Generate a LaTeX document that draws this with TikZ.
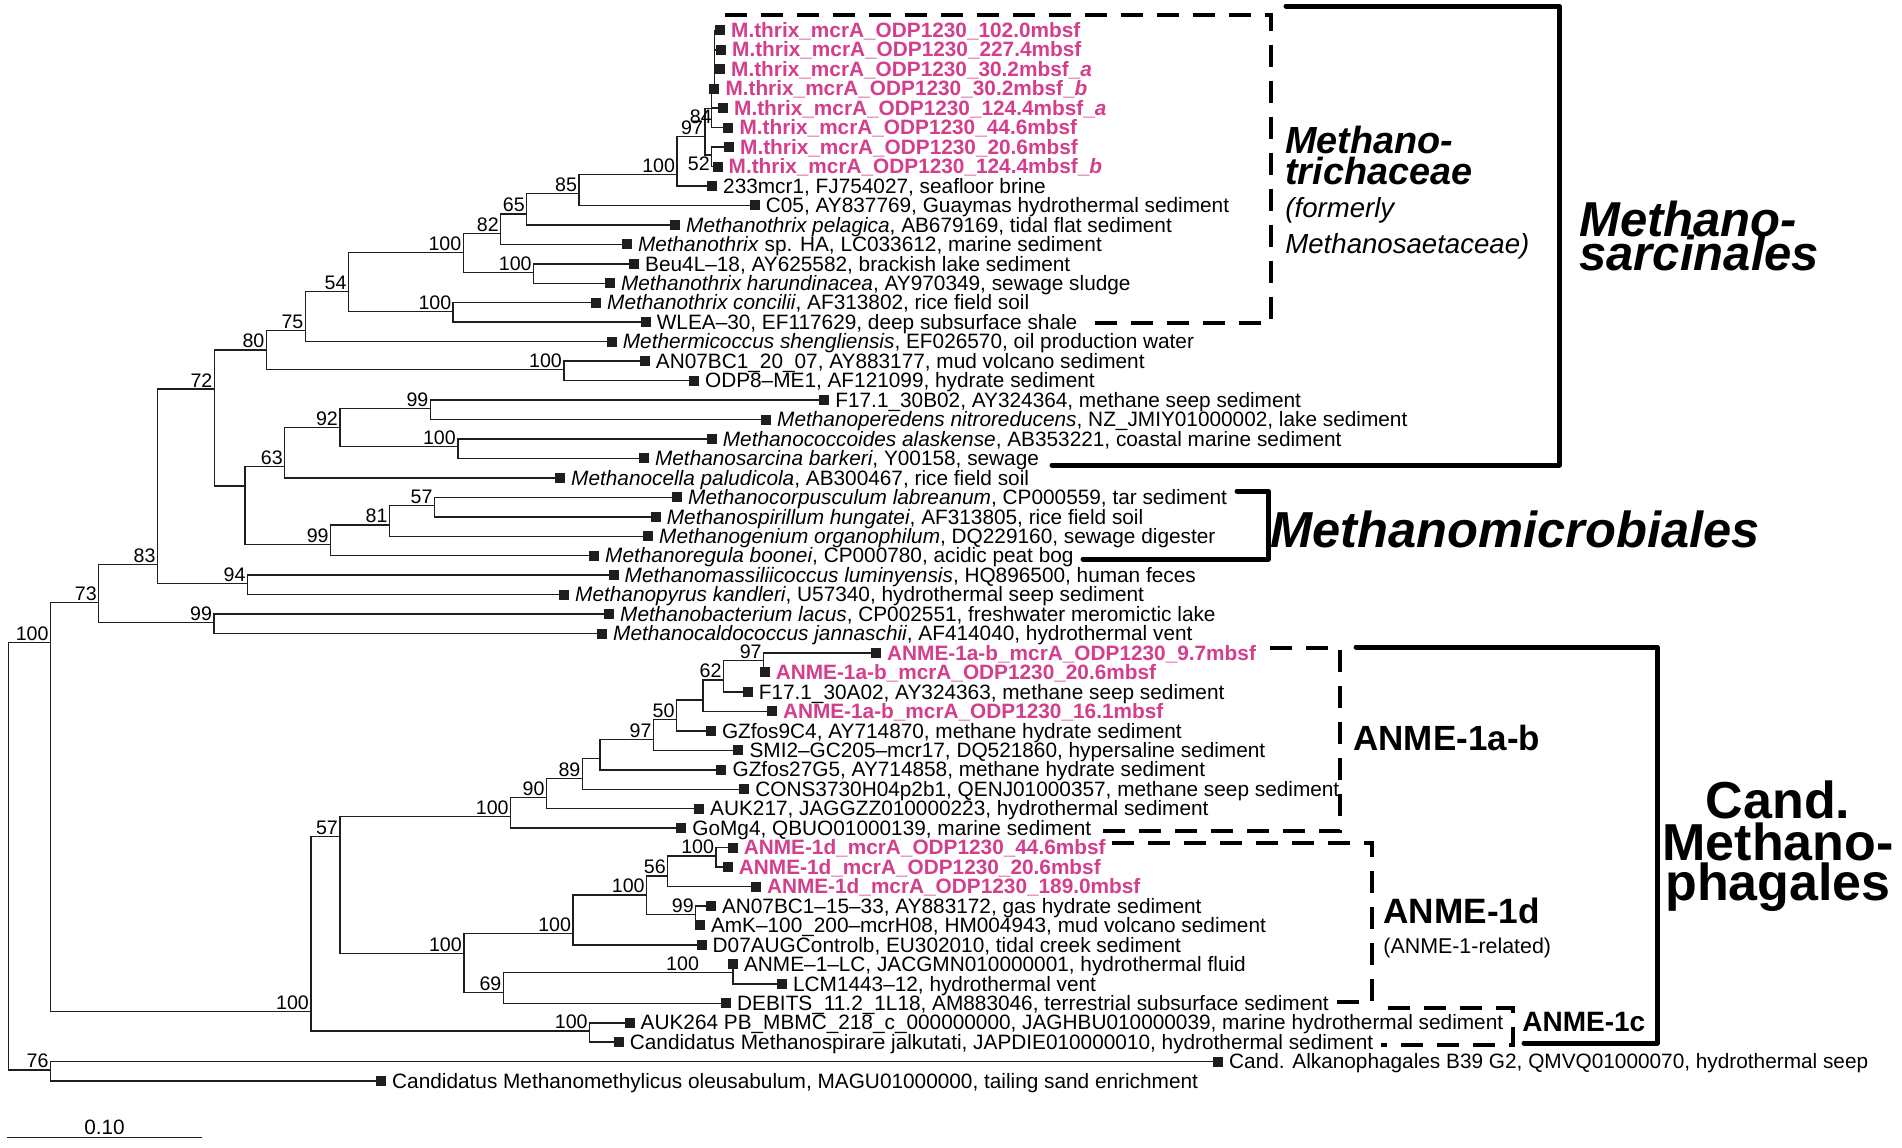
\documentclass[tikz,border=0pt]{standalone}
\usepackage{fontspec}
\setmainfont{Liberation Sans}
\usepackage{tikz}
\usetikzlibrary{calc}
\definecolor{seqpink}{RGB}{212, 62, 140}
\definecolor{treeblack}{RGB}{30, 30, 30}
\newcommand{\odp}[1]{{\bfseries\color{seqpink}#1}}

\begin{document}
\begin{tikzpicture}[x=0.5pt, y=-0.5pt,
  branch/.style={line width=0.75pt, draw=treeblack},
  tipbox/.style={fill=treeblack, draw=none, minimum size=5pt, inner sep=0pt},
  tiplab/.style={anchor=base west, inner sep=0pt, xshift=5.4pt, yshift=-3.6pt,
                 font=\fontsize{10.4}{12}\selectfont},
  boot/.style={anchor=south east, inner sep=0.8pt, font=\fontsize{9.8}{11}\selectfont},
  clade/.style={line width=2.5pt, line join=round, line cap=round},
  subclade/.style={line width=2pt, dash pattern=on 11pt off 7pt},
  grouplab/.style={anchor=base west, inner sep=0pt},
]
\fill[white] (0,0) rectangle (1902,1147);
\useasboundingbox (0,0) rectangle (1902,1147);

% Leaves: tip x and label
\foreach \i/\tx/\lab in {
  1/720/{\odp{M.thrix\_mcrA\_ODP1230\_102.0mbsf}},
  2/721/{\odp{M.thrix\_mcrA\_ODP1230\_227.4mbsf}},
  3/720/{\odp{M.thrix\_mcrA\_ODP1230\_30.2mbsf\_\textit{a}}},
  4/714.3/{\odp{M.thrix\_mcrA\_ODP1230\_30.2mbsf\_\textit{b}}},
  5/723/{\odp{M.thrix\_mcrA\_ODP1230\_124.4mbsf\_\textit{a}}},
  6/728.3/{\odp{M.thrix\_mcrA\_ODP1230\_44.6mbsf}},
  7/729/{\odp{M.thrix\_mcrA\_ODP1230\_20.6mbsf}},
  8/717.5/{\odp{M.thrix\_mcrA\_ODP1230\_124.4mbsf\_\textit{b}}},
  9/712/{233mcr1, FJ754027, seafloor brine},
  10/754.7/{C05, AY837769, Guaymas hydrothermal sediment},
  11/675/{\textit{Methanothrix pelagica}, AB679169, tidal flat sediment},
  12/626.8/{\textit{Methanothrix} sp. HA, LC033612, marine sediment},
  13/634/{Beu4L–18, AY625582, brackish lake sediment},
  14/609.8/{\textit{Methanothrix harundinacea}, AY970349, sewage sludge},
  15/596/{\textit{Methanothrix concilii}, AF313802, rice field soil},
  16/645.6/{WLEA–30, EF117629, deep subsurface shale},
  17/611.7/{\textit{Methermicoccus shengliensis}, EF026570, oil production water},
  18/644.7/{AN07BC1\_20\_07, AY883177, mud volcano sediment},
  19/693.9/{ODP8–ME1, AF121099, hydrate sediment},
  20/824.2/{F17.1\_30B02, AY324364, methane seep sediment},
  21/766/{\textit{Methanoperedens nitroreducens}, NZ\_JMIY01000002, lake sediment},
  22/711.7/{\textit{Methanococcoides alaskense}, AB353221, coastal marine sediment},
  23/643.9/{\textit{Methanosarcina barkeri}, Y00158, sewage},
  24/560/{\textit{Methanocella paludicola}, AB300467, rice field soil},
  25/677/{\textit{Methanocorpusculum labreanum}, CP000559, tar sediment},
  26/655.7/{\textit{Methanospirillum hungatei}, AF313805, rice field soil},
  27/648/{\textit{Methanogenium organophilum}, DQ229160, sewage digester},
  28/594/{\textit{Methanoregula boonei}, CP000780, acidic peat bog},
  29/613.5/{\textit{Methanomassiliicoccus luminyensis}, HQ896500, human feces},
  30/564/{\textit{Methanopyrus kandleri}, U57340, hydrothermal seep sediment},
  31/609/{\textit{Methanobacterium lacus}, CP002551, freshwater meromictic lake},
  32/602/{\textit{Methanocaldococcus jannaschii}, AF414040, hydrothermal vent},
  33/876/{\odp{ANME-1a-b\_mcrA\_ODP1230\_9.7mbsf}},
  34/764.6/{\odp{ANME-1a-b\_mcrA\_ODP1230\_20.6mbsf}},
  35/747.6/{F17.1\_30A02, AY324363, methane seep sediment},
  36/771.8/{\odp{ANME-1a-b\_mcrA\_ODP1230\_16.1mbsf}},
  37/710.8/{GZfos9C4, AY714870, methane hydrate sediment},
  38/738.4/{SMI2–GC205–mcr17, DQ521860, hypersaline sediment},
  39/721.4/{GZfos27G5, AY714858, methane hydrate sediment},
  40/744.2/{CONS3730H04p2b1, QENJ01000357, methane seep sediment},
  41/699/{AUK217, JAGGZZ010000223, hydrothermal sediment},
  42/681.2/{GoMg4, QBUO01000139, marine sediment},
  43/732.6/{\odp{ANME-1d\_mcrA\_ODP1230\_44.6mbsf}},
  44/727.7/{\odp{ANME-1d\_mcrA\_ODP1230\_20.6mbsf}},
  45/755.8/{\odp{ANME-1d\_mcrA\_ODP1230\_189.0mbsf}},
  46/710.8/{AN07BC1–15–33, AY883172, gas hydrate sediment},
  47/699.8/{AmK–100\_200–mcrH08, HM004943, mud volcano sediment},
  48/701.5/{D07AUGControlb, EU302010, tidal creek sediment},
  49/732.9/{ANME–1–LC, JACGMN010000001, hydrothermal fluid},
  50/781.9/{LCM1443–12, hydrothermal vent},
  51/726/{DEBITS\_11.2\_1L18, AM883046, terrestrial subsurface sediment},
  52/629.5/{AUK264 PB\_MBMC\_218\_c\_000000000, JAGHBU010000039, marine hydrothermal sediment},
  53/618.7/{Candidatus Methanospirare jalkutati, JAPDIE010000010, hydrothermal sediment},
  54/1218/{Cand. Alkanophagales B39 G2, QMVQ01000070, hydrothermal seep},
  55/381/{Candidatus Methanomethylicus oleusabulum, MAGU01000000, tailing sand enrichment}%
}{
  \coordinate (l\i) at (\tx, {30.3+(\i-1)*19.46});
  \node[tiplab] (t\i) at (l\i) {\lab};
}

% Internal nodes
\coordinate (root) at (8.3, 856);
\coordinate (nA) at (50.5, 642.3);
\coordinate (n76) at (50.5, 1070);
\coordinate (n73) at (98.7, 602.7);
\coordinate (n83) at (157.5, 564.3);
\coordinate (n94) at (247.5, 583.7);
\coordinate (n99b) at (214, 622.3);
\coordinate (n72) at (214.4, 389);
\coordinate (nMM) at (244.8, 486);
\coordinate (n63) at (284.7, 466.7);
\coordinate (n92) at (339.8, 427.7);
\coordinate (n99c) at (430.3, 408.3);
\coordinate (nCoc) at (457.8, 446.7);
\coordinate (n99m) at (330.6, 544.3);
\coordinate (n81) at (389.4, 525);
\coordinate (n57) at (434.4, 505.7);
\coordinate (n80) at (266.3, 350);
\coordinate (nAN) at (563.9, 369.3);
\coordinate (n75) at (305.4, 330.7);
\coordinate (n54) at (348.5, 291.7);
\coordinate (nCon) at (453.2, 311.3);
\coordinate (nMt) at (463.3, 252.7);
\coordinate (nBeu) at (533.6, 272.3);
\coordinate (n82) at (500.7, 233.3);
\coordinate (n65) at (526.7, 214);
\coordinate (n85) at (579, 193.3);
\coordinate (nMx) at (677, 174.5);
\coordinate (n97) at (705, 136.7);
\coordinate (n84) at (711.7, 108.3);
\coordinate (nU) at (714.3, 88);
\coordinate (n52) at (711.7, 155);
\coordinate (nC) at (310.9, 1011.7);
\coordinate (nJ) at (589.6, 1031);
\coordinate (n57b) at (339.8, 836.7);
\coordinate (nK) at (510.6, 816.7);
\coordinate (n90) at (546.4, 797.7);
\coordinate (n89) at (582.3, 778.3);
\coordinate (nUa) at (600.2, 758.3);
\coordinate (n97a) at (653.5, 739.3);
\coordinate (n50) at (676.4, 719.3);
\coordinate (nUb) at (703, 700);
\coordinate (n62) at (723.4, 680);
\coordinate (n97b) at (763.6, 660.7);
\coordinate (nE) at (463.8, 953.3);
\coordinate (nF) at (573, 933.3);
\coordinate (nG) at (646.6, 895);
\coordinate (n56) at (667.7, 876);
\coordinate (nH) at (716, 856);
\coordinate (n99d) at (695.7, 914.3);
\coordinate (n69) at (503.3, 992.3);
\coordinate (nI) at (732.9, 972.7);

% Branches
\foreach \p/\c in {root/nA, root/n76, nA/n73, nA/nC, n76/l54, n76/l55,
  n73/n83, n73/n99b, n99b/l31, n99b/l32, n83/n72, n83/n94, n94/l29, n94/l30,
  n72/n80, n72/nMM, nMM/n63, nMM/n99m, n63/n92, n63/l24, n92/n99c, n92/nCoc,
  n99c/l20, n99c/l21, nCoc/l22, nCoc/l23, n99m/n81, n99m/l28, n81/n57, n81/l27,
  n57/l25, n57/l26, n80/n75, n80/nAN, nAN/l18, nAN/l19, n75/n54, n75/l17,
  n54/nMt, n54/nCon, nCon/l15, nCon/l16, nMt/n82, nMt/nBeu, nBeu/l13, nBeu/l14,
  n82/n65, n82/l12, n65/n85, n65/l11, n85/nMx, n85/l10, nMx/n97, nMx/l9,
  n97/n84, n97/n52, n84/nU, n84/l5, n84/l6, nU/l1, nU/l2, nU/l3, nU/l4,
  n52/l7, n52/l8,
  nC/n57b, nC/nJ, nJ/l52, nJ/l53, n57b/nK, n57b/nE, nK/n90, nK/l42,
  n90/n89, n90/l41, n89/nUa, n89/l40, nUa/n97a, nUa/l39, n97a/n50, n97a/l38,
  n50/nUb, n50/l37, nUb/n62, nUb/l36, n62/n97b, n62/l35, n97b/l33, n97b/l34,
  nE/nF, nE/n69, nF/nG, nF/l48, nG/n56, nG/n99d, n56/nH, n56/l45,
  nH/l43, nH/l44, n99d/l46, n99d/l47, n69/nI, n69/l51, nI/l49, nI/l50}
  \draw[branch] (\p) |- (\c);

% Tip squares
\foreach \i in {1,...,55}
  \node[tipbox] (s\i) at (l\i) {};

% Bootstrap values
\foreach \n/\v in {nA/100, n76/76, n73/73, n83/83, n94/94, n99b/99, n72/72,
  n63/63, n92/92, n99c/99, nCoc/100, n99m/99, n81/81, n57/57, n80/80, nAN/100,
  n75/75, n54/54, nCon/100, nMt/100, nBeu/100, n82/82, n65/65, n85/85,
  nMx/100, n97/97, nC/100, nJ/100, n57b/57, nK/100, n90/90, n89/89,
  n97a/97, n50/50, n62/62, n97b/97, nE/100, nF/100, nG/100, n56/56,
  nH/100, n99d/99, n69/69}
  \node[boot] (b\n) at (\n) {\v};
\node[boot, anchor=east] (bn84) at ([xshift=1pt, yshift=-4pt]n84) {84};
\node[boot, anchor=north east] (bn52) at (n52) {52};
\node[boot] (bnI) at ([xshift=-16pt]nI) {100};

% Clade brackets
\draw[subclade] (725,14.6) -- (1271,14.6) -- (1271,322.7) -- (1088,322.7);
\draw[clade] (1286,6) -- (1559,6) -- (1559,465) -- (1052,465);
\draw[clade] (1237,491) -- (1268,491) -- (1268,559) -- (1083,559);
\draw[subclade] (1270,648) -- (1340,648) -- (1340,831) -- (1100,831);
\draw[subclade] (1112,843) -- (1372,843) -- (1372,1002) -- (1333,1002);
\draw[subclade] (1388,1008) -- (1513,1008) -- (1513,1045) -- (1381,1045);
\draw[clade] (1356,647) -- (1657,647) -- (1657,1043) -- (1524,1043);

% Clade names
\node[grouplab, font=\fontsize{18.9}{20}\selectfont\bfseries\itshape] (mt1) at (1285,153) {Methano-};
\node[grouplab, font=\fontsize{18.9}{20}\selectfont\bfseries\itshape] (mt2) at (1285,184) {trichaceae};
\node[grouplab, font=\fontsize{13.8}{15}\selectfont\itshape] (mt3) at (1285,217) {(formerly};
\node[grouplab, font=\fontsize{13.8}{15}\selectfont\itshape] (mt4) at (1285,253) {Methanosaetaceae)};
\node[grouplab, font=\fontsize{24.5}{26}\selectfont\bfseries\itshape] (ms1) at (1579,236) {Methano-};
\node[grouplab, font=\fontsize{24.5}{26}\selectfont\bfseries\itshape] (ms2) at (1579,270) {sarcinales};
\node[grouplab, font=\fontsize{25.3}{27}\selectfont\bfseries\itshape] (mm) at (1270,547) {Methanomicrobiales};
\node[grouplab, font=\fontsize{17.5}{19}\selectfont\bfseries] (a1ab) at (1353,750) {ANME-1a-b};
\node[grouplab, font=\fontsize{17.6}{19}\selectfont\bfseries] (a1d) at (1383,923) {ANME-1d};
\node[grouplab, font=\fontsize{10.7}{12}\selectfont] (a1dr) at (1383,953) {(ANME-1-related)};
\node[grouplab, font=\fontsize{14}{15}\selectfont\bfseries] (a1c) at (1522,1031.7) {ANME-1c};
\node[anchor=base, inner sep=0pt, font=\fontsize{26}{28}\selectfont\bfseries] (mp1) at (1778,818) {Cand.};
\node[anchor=base, inner sep=0pt, font=\fontsize{26}{28}\selectfont\bfseries] (mp2) at (1778,860) {Methano-};
\node[anchor=base, inner sep=0pt, font=\fontsize{26}{28}\selectfont\bfseries] (mp3) at (1778,900) {phagales};

% Scale bar
\coordinate (sbl) at (7.3,1137.7);
\coordinate (sbr) at (201.7,1137.7);
\draw[branch] (sbl) -- (sbr)
  node[midway, anchor=south, inner sep=1.2pt, font=\fontsize{10.4}{12}\selectfont] (sblab) {0.10};
\end{tikzpicture}
\end{document}
